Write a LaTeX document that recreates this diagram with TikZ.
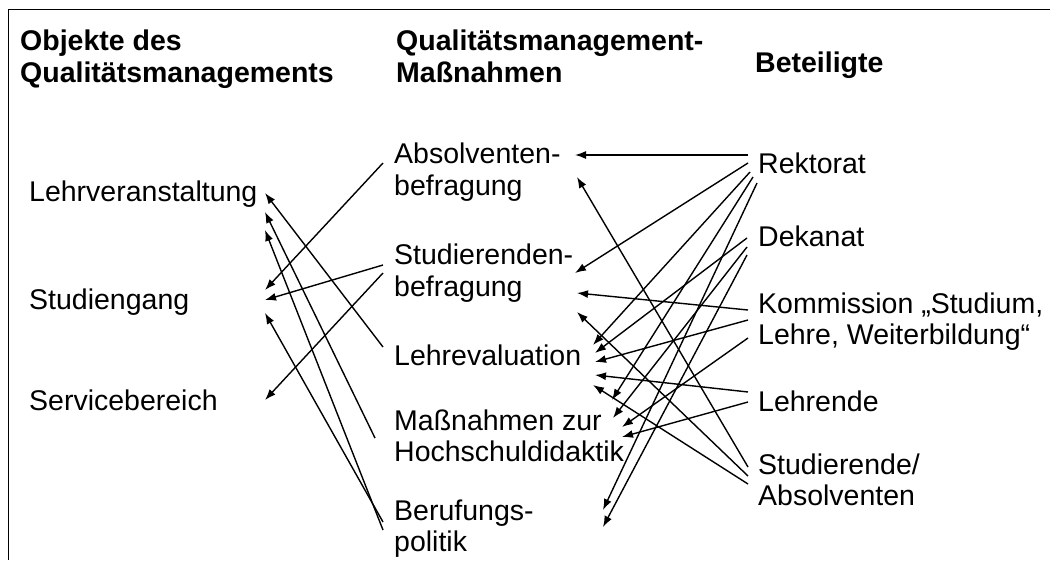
\documentclass[tikz,border=0pt]{standalone}
\usepackage{fontspec}
\setmainfont{Liberation Sans}
\usetikzlibrary{arrows.meta}
\tikzset{
  lbl/.style={anchor=base west, inner sep=0pt, font=\fontsize{28.5}{32}\selectfont},
  hdr/.style={anchor=base west, inner sep=0pt, font=\fontsize{28.5}{32}\selectfont\bfseries},
  arr/.style={-{Latex[length=11pt,width=8pt]}, line width=1.4pt},
  frame/.style={line width=1.6pt}
}
\begin{document}
\begin{tikzpicture}[x=1pt,y=-1pt]
\useasboundingbox (0,0) rectangle (1050,560);
% frame (top and left edges visible)
\draw[frame] (1050,9.5) -- (8.5,9.5) -- (8.5,560);

% headers
\node[hdr] (h1a) at (20,50) {Objekte des};
\node[hdr] (h1b) at (20,82) {Qualitätsmanagements};
\node[hdr] (h2a) at (396,50) {Qualitätsmanagement-};
\node[hdr] (h2b) at (396,82) {Maßnahmen};
\node[hdr] (h3) at (755,72) {Beteiligte};

% left column
\node[lbl] (lv) at (29,201) {Lehrveranstaltung};
\node[lbl] (sg) at (29,309) {Studiengang};
\node[lbl] (sv) at (29,410) {Servicebereich};

% middle column
\node[lbl] (ab1) at (394,163) {Absolventen-};
\node[lbl] (ab2) at (394,195) {befragung};
\node[lbl] (sb1) at (394,264) {Studierenden-};
\node[lbl] (sb2) at (394,296) {befragung};
\node[lbl] (le) at (394,365) {Lehrevaluation};
\node[lbl] (mh1) at (394,430) {Maßnahmen zur};
\node[lbl] (mh2) at (394,461) {Hochschuldidaktik};
\node[lbl] (bp1) at (394,520) {Berufungs-};
\node[lbl] (bp2) at (394,551) {politik};

% right column
\node[lbl] (rek) at (758,173) {Rektorat};
\node[lbl] (dek) at (758,246) {Dekanat};
\node[lbl] (kom1) at (758,313) {Kommission „Studium,};
\node[lbl] (kom2) at (758,344) {Lehre, Weiterbildung“};
\node[lbl] (leh) at (758,411) {Lehrende};
\node[lbl] (stu1) at (758,474) {Studierende/};
\node[lbl] (stu2) at (758,505) {Absolventen};

% connector end points: left column
\coordinate (lvA) at (265,193);
\coordinate (lvB) at (265,212);
\coordinate (lvC) at (265,230);
\coordinate (sgA) at (265,290);
\coordinate (sgB) at (265,300);
\coordinate (sgC) at (265,313);
\coordinate (svA) at (265,400);
% middle column, left side
\coordinate (abL) at (383,163);
\coordinate (sbL1) at (383,265);
\coordinate (sbL2) at (383,273);
\coordinate (leL) at (383,347);
\coordinate (mhL) at (375,438);
\coordinate (bpL1) at (383,522);
\coordinate (bpL2) at (383,530);
% middle column, right side
\coordinate (abR1) at (575,155);
\coordinate (abR2) at (577,177);
\coordinate (sbR1) at (575,273);
\coordinate (sbR2) at (577,293);
\coordinate (sbR3) at (577,312);
\coordinate (leR1) at (593,345);
\coordinate (leR2) at (595,353);
\coordinate (leR3) at (595,362);
\coordinate (leR4) at (595,375);
\coordinate (leR5) at (593,385);
\coordinate (mhR1) at (612,400);
\coordinate (mhR2) at (613,418);
\coordinate (mhR3) at (622,427);
\coordinate (mhR4) at (622,437);
\coordinate (bpR1) at (603,510);
\coordinate (bpR2) at (603,527);
% right column
\coordinate (rekA) at (748,155);
\coordinate (rekB) at (748,163);
\coordinate (rekC) at (750,172);
\coordinate (rekD) at (753,177);
\coordinate (rekE) at (757,183);
\coordinate (dekA) at (747,238);
\coordinate (dekB) at (747,247);
\coordinate (dekC) at (747,255);
\coordinate (komA) at (748,310);
\coordinate (komB) at (748,320);
\coordinate (komC) at (748,338);
\coordinate (lehA) at (748,392);
\coordinate (lehB) at (748,402);
\coordinate (stuA) at (748,467);
\coordinate (stuB) at (748,476);
\coordinate (stuC) at (748,484);

% measures -> objects
\draw[arr] (abL) -- (sgA);
\draw[arr] (sbL1) -- (sgB);
\draw[arr] (sbL2) -- (svA);
\draw[arr] (leL) -- (lvA);
\draw[arr] (mhL) -- (lvB);
\draw[arr] (bpL2) -- (lvC);
\draw[arr] (bpL1) -- (sgC);

% participants -> measures
\draw[arr] (rekA) -- (abR1);
\draw[arr] (rekB) -- (sbR1);
\draw[arr] (rekC) -- (leR1);
\draw[arr] (rekD) -- (mhR1);
\draw[arr] (rekE) -- (bpR1);
\draw[arr] (dekA) -- (leR2);
\draw[arr] (dekB) -- (mhR2);
\draw[arr] (dekC) -- (bpR2);
\draw[arr] (komA) -- (sbR2);
\draw[arr] (komB) -- (leR3);
\draw[arr] (komC) -- (mhR3);
\draw[arr] (lehA) -- (leR4);
\draw[arr] (lehB) -- (mhR4);
\draw[arr] (stuA) -- (abR2);
\draw[arr] (stuB) -- (sbR3);
\draw[arr] (stuC) -- (leR5);
\end{tikzpicture}
\end{document}
